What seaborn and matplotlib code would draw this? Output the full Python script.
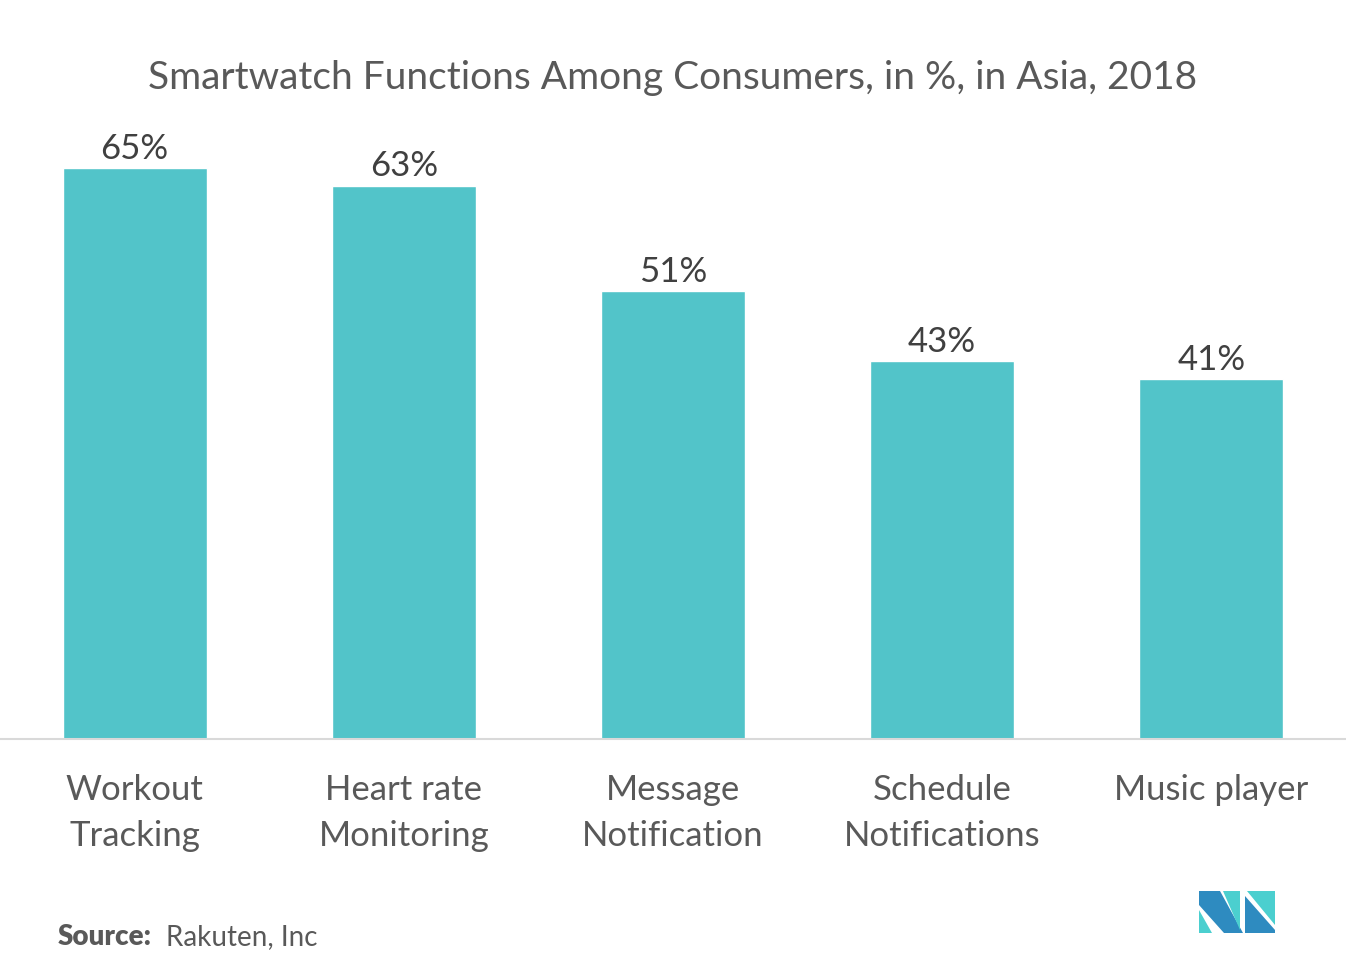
import matplotlib
matplotlib.use('Agg')
import matplotlib.pyplot as plt
import seaborn as sns
import pandas as pd
from matplotlib.patches import Polygon

# chart data
functions = ['Workout\nTracking', 'Heart rate\nMonitoring', 'Message\nNotification',
             'Schedule\nNotifications', 'Music player']
shares = [65, 63, 51, 43, 41]
labels = ['65%', '63%', '51%', '43%', '41%']

df = pd.DataFrame({'Function': functions, 'Share': shares})

sns.set_theme(style='white')
plt.rcParams['font.family'] = ['Lato', 'DejaVu Sans']

fig = plt.figure(figsize=(13.46, 9.72), dpi=100)
# axes box in figure fractions: baseline at y=739 px, top at y=120 px
ax = fig.add_axes([0.0, (972 - 739) / 972, 1.0, (739 - 120) / 972])

sns.barplot(data=df, x='Function', y='Share', color='#52C4C9', width=0.535,
            saturation=1, ax=ax)

ax.set_xlim(-0.5, 4.5)
ax.set_ylim(0, (739 - 120) / 8.78)

for i, v in enumerate(shares):
    ax.text(i, v + 0.4, labels[i], ha='center', va='bottom', fontsize=25,
            color='#404040')

for s in ['top', 'right', 'left']:
    ax.spines[s].set_visible(False)
ax.spines['bottom'].set_color('#d9d9d9')
ax.spines['bottom'].set_linewidth(1.5)
ax.set_yticks([])
ax.set_xlabel('')
ax.set_ylabel('')
ax.tick_params(axis='x', length=0, pad=25, labelsize=25, labelcolor='#595959')
plt.setp(ax.get_xticklabels(), linespacing=1.55)

fig.text(0.5, 1 - 78 / 972, 'Smartwatch Functions Among Consumers, in %, in Asia, 2018',
         ha='center', va='center', fontsize=28, color='#595959')

fig.text(58 / 1346, 1 - 937 / 972, 'Source:', ha='left', va='center',
         fontsize=20, color='#595959', fontweight='heavy')
fig.text(166 / 1346, 1 - 937 / 972, 'Rakuten, Inc', ha='left', va='center',
         fontsize=20, color='#595959')

# small logo bottom right
def px(pts):
    return [(x / 1346, 1 - y / 972) for x, y in pts]

dark = '#2E8BC0'
light = '#4BCFCF'
logo = [
    (px([(1199, 891), (1220, 891), (1243, 933), (1224, 933), (1199, 905)]), dark),
    (px([(1199, 910), (1199, 933), (1212, 933)]), light),
    (px([(1223, 891), (1240, 891), (1240, 930)]), light),
    (px([(1245, 896), (1245, 933), (1275, 933), (1275, 930)]), dark),
    (px([(1247, 891), (1275, 891), (1275, 925)]), light),
]
for pts, c in logo:
    fig.patches.append(Polygon(pts, closed=True, transform=fig.transFigure,
                               facecolor=c, edgecolor='none'))

fig.savefig('out.png', dpi=100)
